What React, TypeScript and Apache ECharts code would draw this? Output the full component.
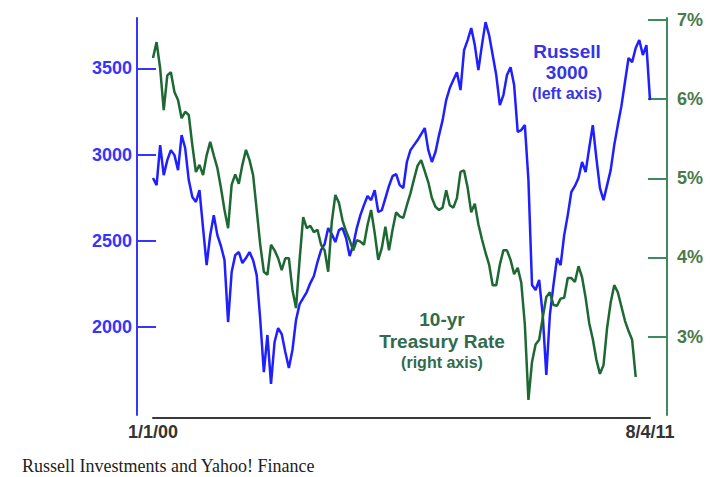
import React, { useEffect, useRef } from "react";
import * as echarts from "echarts";

// Monthly categories, Jan 2000 .. Aug 2011
const months: string[] = [];
for (let y = 2000; y <= 2011; y++) {
  for (let m = 1; m <= 12; m++) {
    if (y === 2011 && m > 8) break;
    months.push(`${m}/1/${String(y).slice(2)}`);
  }
}

const xTickLabels = ["1/1/00", "8/4/11"];
const leftTicks = [2000, 2500, 3000, 3500];
const rightTicks = [3, 4, 5, 6, 7];

// Russell 3000 (left axis)
const russell3000 = [
  2864, 2823, 3055, 2881, 2968, 3026, 2997, 2910, 3113, 3038,
  2852, 2754, 2725, 2794, 2574, 2359, 2533, 2649, 2533, 2470,
  2388, 2029, 2319, 2417, 2435, 2371, 2400, 2435, 2388, 2301,
  2041, 1739, 1954, 1670, 1913, 1994, 1959, 1855, 1762, 1867,
  2041, 2133, 2168, 2203, 2255, 2296, 2377, 2446, 2481, 2574,
  2539, 2493, 2562, 2574, 2516, 2412, 2475, 2574, 2649, 2707,
  2760, 2736, 2794, 2667, 2678, 2748, 2818, 2875, 2887, 2823,
  2806, 2957, 3026, 3055, 3084, 3119, 3154, 3026, 2957, 3015,
  3113, 3200, 3316, 3386, 3432, 3478, 3374, 3606, 3664, 3734,
  3635, 3490, 3635, 3768, 3693, 3577, 3461, 3287, 3345, 3461,
  3507, 3403, 3131, 3142, 3171, 2852, 2244, 2215, 2273, 2070,
  1722, 2070, 2244, 2400, 2359, 2533, 2649, 2783, 2818, 2864,
  2957, 2899, 3038, 3171, 2980, 2806, 2736, 2823, 2910, 3055,
  3171, 3281, 3421, 3560, 3536, 3618, 3664, 3577, 3635, 3316,
];

// 10-yr Treasury rate (right axis, %)
const treasury10yr = [
  6.52, 6.72, 6.39, 5.86, 6.30, 6.34, 6.09, 5.99, 5.76, 5.84,
  5.80, 5.42, 5.08, 5.17, 5.04, 5.29, 5.46, 5.29, 5.13, 4.88,
  4.60, 4.37, 4.92, 5.05, 4.93, 5.17, 5.36, 5.23, 5.04, 4.60,
  4.16, 3.82, 3.78, 4.16, 4.09, 3.99, 3.84, 3.99, 3.99, 3.59,
  3.36, 3.97, 4.51, 4.37, 4.40, 4.32, 4.35, 4.16, 4.09, 3.82,
  4.45, 4.79, 4.69, 4.47, 4.33, 4.22, 4.09, 4.22, 4.20, 4.16,
  4.41, 4.60, 4.31, 3.97, 4.12, 4.39, 4.09, 4.35, 4.57, 4.52,
  4.50, 4.66, 4.81, 4.99, 5.16, 5.23, 5.09, 4.95, 4.75, 4.64,
  4.60, 4.63, 4.85, 4.66, 4.63, 4.75, 5.08, 5.10, 4.88, 4.57,
  4.68, 4.42, 4.23, 4.06, 3.91, 3.65, 3.65, 3.91, 4.09, 4.09,
  3.97, 3.79, 3.87, 3.68, 3.15, 2.20, 2.68, 2.90, 2.96, 3.24,
  3.50, 3.56, 3.40, 3.39, 3.48, 3.49, 3.74, 3.74, 3.69, 3.89,
  3.75, 3.49, 3.17, 2.97, 2.71, 2.53, 2.64, 3.11, 3.43, 3.65,
  3.56, 3.38, 3.20, 3.07, 2.96, 2.49,
];

const SANS = "'Liberation Sans', Arial, Helvetica, sans-serif";
const SERIF = "'Liberation Serif', 'Times New Roman', serif";

const BLUE_LINE = "#1f1fff";
const BLUE_AXIS = "#3535ff";
const GREEN_LINE = "#1d6833";
const GREEN_AXIS = "#3d8a5c";
const GREEN_LABEL = "#4a7a4c";
const GREEN_NOTE = "#2f6b4c";

export default function App() {
  const ref = useRef<HTMLDivElement>(null);

  useEffect(() => {
    if (!ref.current) return;
    const chart = echarts.init(ref.current, undefined, { renderer: "svg" });
    const lastIdx = months.length - 1;
    chart.setOption({
      animation: false,
      backgroundColor: "#ffffff",
      grid: { left: 153, right: 67, top: 18, bottom: 62, containLabel: false },
      xAxis: {
        type: "category",
        data: months,
        boundaryGap: false,
        offset: 3,
        axisLine: { show: true, lineStyle: { color: "#3a3a3a", width: 2 } },
        axisTick: { show: false },
        splitLine: { show: false },
        axisLabel: {
          interval: (i: number) => i === 0 || i === lastIdx,
          formatter: (_v: string, i: number) => (i === 0 ? xTickLabels[0] : xTickLabels[1]),
          color: "#333333",
          fontWeight: "bold",
          fontSize: 18,
          fontFamily: SANS,
          margin: 5,
          showMinLabel: true,
          showMaxLabel: true,
        },
      },
      yAxis: [
        {
          type: "value",
          position: "left",
          offset: 16,
          min: 1490,
          max: 3792,
          splitLine: { show: false },
          axisLine: { show: true, lineStyle: { color: BLUE_AXIS, width: 2 } },
          axisTick: {
            show: true,
            inside: true,
            length: 19,
            lineStyle: { color: BLUE_AXIS, width: 2 },
            customValues: leftTicks,
          },
          axisLabel: {
            customValues: leftTicks,
            formatter: (v: number) => String(v),
            color: BLUE_AXIS,
            fontWeight: "bold",
            fontSize: 18,
            fontFamily: SANS,
            margin: 5,
          },
        },
        {
          type: "value",
          position: "right",
          offset: 17,
          min: 2.01,
          max: 7.025,
          splitLine: { show: false },
          axisLine: { show: true, lineStyle: { color: GREEN_AXIS, width: 2 } },
          axisTick: {
            show: true,
            inside: true,
            length: 19,
            lineStyle: { color: GREEN_AXIS, width: 2 },
            customValues: rightTicks,
          },
          axisLabel: {
            customValues: rightTicks,
            formatter: (v: number) => `${v}%`,
            color: GREEN_LABEL,
            fontWeight: "bold",
            fontSize: 18,
            fontFamily: SANS,
            margin: 10,
          },
        },
      ],
      series: [
        {
          name: "Russell 3000",
          type: "line",
          yAxisIndex: 0,
          data: russell3000,
          symbol: "none",
          lineStyle: { color: BLUE_LINE, width: 2.5 },
          z: 2,
        },
        {
          name: "10-yr Treasury Rate",
          type: "line",
          yAxisIndex: 1,
          data: treasury10yr,
          symbol: "none",
          lineStyle: { color: GREEN_LINE, width: 2.5 },
          z: 3,
        },
      ],
      graphic: [
        { type: "text", x: 567, y: 51, style: { text: "Russell", textAlign: "center", textVerticalAlign: "middle", font: `bold 19px ${SANS}`, fill: "#3535e6" } },
        { type: "text", x: 567, y: 72, style: { text: "3000", textAlign: "center", textVerticalAlign: "middle", font: `bold 19px ${SANS}`, fill: "#3535e6" } },
        { type: "text", x: 567, y: 93, style: { text: "(left axis)", textAlign: "center", textVerticalAlign: "middle", font: `bold 16px ${SANS}`, fill: "#3535e6" } },
        { type: "text", x: 442, y: 319, style: { text: "10-yr", textAlign: "center", textVerticalAlign: "middle", font: `bold 19px ${SANS}`, fill: GREEN_NOTE } },
        { type: "text", x: 442, y: 341, style: { text: "Treasury Rate", textAlign: "center", textVerticalAlign: "middle", font: `bold 19px ${SANS}`, fill: GREEN_NOTE } },
        { type: "text", x: 442, y: 362, style: { text: "(right axis)", textAlign: "center", textVerticalAlign: "middle", font: `bold 16px ${SANS}`, fill: GREEN_NOTE } },
        { type: "text", x: 22, y: 466, style: { text: "Russell Investments and Yahoo! Finance", textAlign: "left", textVerticalAlign: "middle", font: `18px ${SERIF}`, fill: "#222222" } },
      ],
    });
    return () => chart.dispose();
  }, []);

  return (
    <div
      ref={ref}
      style={{ position: "fixed", left: 0, top: 0, width: 717, height: 477, background: "#fff" }}
    />
  );
}
